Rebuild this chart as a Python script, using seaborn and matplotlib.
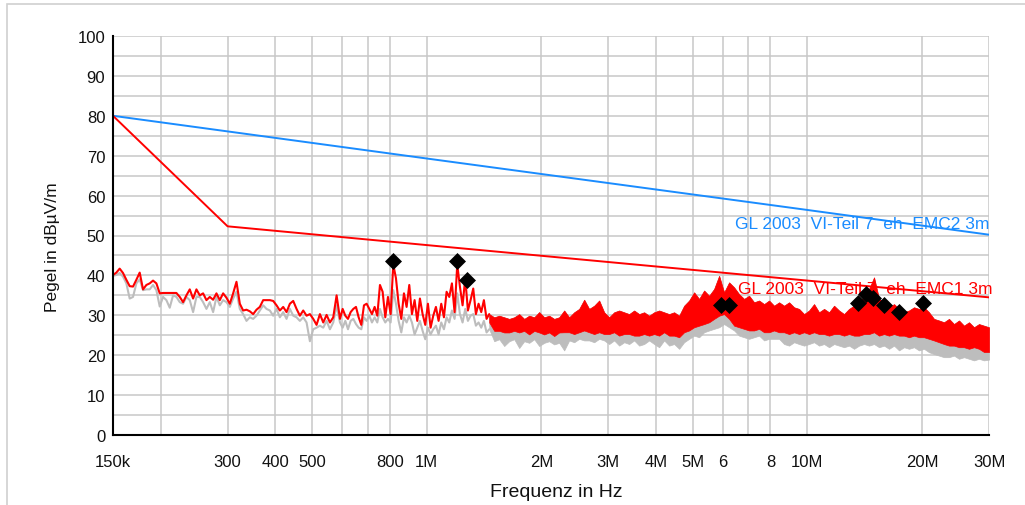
import numpy as np
import pandas as pd
import matplotlib.pyplot as plt
import seaborn as sns
from matplotlib.patches import Rectangle
from matplotlib.ticker import FixedLocator, NullLocator, MultipleLocator

# Limit lines (frequency in Hz, level in dBuV/m)
lim_emc2_f = [150e3, 1e6, 10e6, 30e6]
lim_emc2_db = [80.0, 69.3, 56.4, 50.2]
lim_emc1_f = [150e3, 300e3, 1e6, 10e6, 30e6]
lim_emc1_db = [80.0, 52.3, 47.6, 38.7, 34.5]

# Measured spectrum, low band 150k..580k (sweep points evenly spaced on the log axis)
lf1_span = (150e3, 580e3)
lf1_red = [40.1, 40.7, 41.7, 40.6, 38.9, 37.3, 37.2, 38.9, 40.7, 36.5,
           37.6, 38.0, 38.7, 38.0, 35.5, 35.6, 35.6, 35.6, 35.6, 35.6,
           34.6, 33.3, 35.0, 36.5, 34.2, 36.5, 35.0, 35.5, 33.8, 34.6,
           33.9, 35.5, 33.8, 35.5, 34.4, 32.9, 35.5, 38.4, 32.9, 31.2,
           31.4, 31.0, 30.3, 31.4, 32.1, 33.8, 33.8, 33.8, 33.6, 32.5,
           31.2, 32.1, 30.8, 32.9, 33.6, 31.6, 29.9, 31.2, 29.9, 30.3,
           29.1, 27.6, 30.3, 28.2, 30.1, 28.2, 29.5, 35.0]
lf1_grey = [39.9, 40.1, 40.6, 39.7, 38.0, 34.2, 34.6, 38.0, 39.0, 36.3,
            36.5, 36.5, 37.6, 36.3, 32.2, 34.6, 33.8, 31.9, 35.0, 34.6,
            33.3, 32.9, 34.6, 33.8, 30.8, 34.6, 34.6, 33.3, 31.6, 33.3,
            30.8, 34.6, 32.5, 33.8, 33.3, 32.1, 34.2, 35.9, 31.6, 30.3,
            28.6, 29.5, 29.1, 29.9, 31.2, 32.5, 31.6, 31.2, 29.9, 31.6,
            29.5, 30.8, 29.1, 31.6, 29.9, 29.5, 28.6, 29.5, 28.2, 23.5,
            26.5, 26.9, 27.4, 26.9, 28.6, 26.5, 28.2, 32.5]

# low band 592k..1.46M
lf2_span = (592e3, 1.46e6)
lf2_red = [29.1, 31.6, 29.9, 29.1, 30.8, 31.6, 32.1, 29.5, 27.6, 32.5,
           32.9, 31.6, 30.3, 32.1, 29.9, 37.6, 35.9, 29.5, 34.6, 30.3,
           42.7, 39.3, 32.9, 29.1, 35.5, 32.1, 37.6, 30.3, 33.8, 28.6,
           34.2, 30.3, 27.6, 32.9, 26.9, 29.9, 32.1, 28.6, 32.9, 29.5,
           35.9, 34.6, 38.0, 30.8, 42.7, 37.2, 32.5, 39.3, 31.2, 33.8,
           36.7, 30.3, 32.9, 30.8, 33.8, 29.1, 30.3]
lf2_grey = [28.2, 26.9, 28.6, 26.5, 28.6, 29.1, 27.8, 26.9, 26.5, 29.5,
            28.6, 29.9, 28.2, 29.5, 28.2, 31.6, 29.5, 28.2, 29.1, 28.2,
            36.3, 32.9, 28.6, 25.7, 29.5, 28.2, 29.9, 28.2, 25.2, 26.9,
            28.6, 26.1, 24.0, 26.9, 25.2, 26.5, 27.4, 25.2, 28.2, 26.5,
            29.5, 28.2, 31.2, 29.1, 35.5, 30.3, 28.2, 31.6, 28.6, 29.9,
            30.3, 27.4, 28.2, 26.9, 28.6, 25.7, 26.5]

# dense band 1.46M..30M: top and bottom of the red trace, bottom of the grey trace
hf_span = (1.46e6, 30e6)
hf_red_top = [30.3, 29.5, 29.9, 29.5, 29.1, 29.5, 30.3, 29.1, 29.9, 29.5,
              30.8, 29.5, 29.9, 29.1, 29.5,
              31.2, 29.5, 30.75, 31.6, 33.9, 31.6, 32.4, 33.7, 30.75, 29.5,
              30.75, 31.2, 30.75, 30.3, 31.2, 30.3, 30.75, 29.9, 30.75, 31.2,
              30.75, 30.3, 30.75, 29.9, 32.4, 33.7, 35.75, 34.1, 36.2, 34.9,
              36.6, 39.9, 35.75, 38.25, 37.0, 35.3, 34.1, 34.9, 33.25, 33.7,
              32.8, 33.7, 32.4, 33.25,
              32.4, 33.25, 32.0, 31.6, 30.3, 31.2, 32.8, 30.75, 31.6, 30.75,
              32.4, 31.2, 30.3, 31.6, 32.4, 33.7, 34.5, 36.6, 39.5, 34.1,
              33.25, 32.0, 32.8, 31.6, 30.75, 31.2, 32.0, 31.6, 32.0, 30.75,
              29.1, 28.7, 28.25, 29.1, 27.8, 28.7, 27.4, 28.25, 27.0, 27.8,
              27.4, 27.0]
hf_red_bot = [28.2, 26.1, 26.1, 25.7, 25.7, 26.1, 25.7, 26.1, 25.2, 26.1,
              25.7, 25.2, 25.7, 24.8, 25.7,
              25.75, 25.75, 25.3, 25.75, 26.2, 25.75, 25.3, 25.75, 25.3, 25.3,
              25.75, 24.9, 25.3, 25.3, 24.9, 24.9, 25.3, 24.9, 25.3, 24.9,
              25.75, 24.9, 24.9, 24.5, 25.75, 26.2, 27.0, 27.4, 27.8, 28.25,
              29.1, 29.9, 30.3, 29.1, 27.4, 27.0, 26.6, 26.2, 26.2, 26.6,
              25.75, 25.75, 26.2, 25.75,
              25.75, 25.3, 25.75, 25.3, 25.75, 25.3, 25.75, 25.3, 25.3, 24.9,
              25.3, 25.3, 24.9, 25.3, 24.9, 24.9, 25.3, 25.3, 25.75, 24.9,
              25.3, 24.9, 25.3, 24.9, 24.9, 24.5, 24.9, 24.5, 24.5, 24.1,
              23.7, 23.25, 22.8, 22.4, 22.4, 22.0, 22.0, 21.6, 22.0, 21.6,
              20.8, 20.8]
hf_grey_bot = [26.5, 23.5, 24.0, 22.3, 23.5, 24.0, 21.8, 23.5, 23.1, 24.0,
               22.3, 23.1, 23.5, 22.7, 23.1,
               21.2, 23.7, 23.25, 24.1, 23.7, 23.7, 23.25, 24.1, 23.7, 22.8,
               23.7, 22.4, 23.25, 22.8, 23.7, 22.4, 22.8, 23.7, 22.8, 22.0,
               23.7, 22.4, 22.8, 21.6, 23.25, 24.1, 24.9, 24.5, 25.75, 26.2,
               26.6, 27.0, 27.8, 27.0, 26.2, 24.9, 24.5, 24.1, 24.5, 24.9,
               23.7, 24.1, 24.1, 24.1,
               22.8, 22.4, 23.25, 22.8, 22.4, 22.8, 23.25, 22.4, 22.8, 22.0,
               22.8, 22.4, 22.0, 22.4, 21.6, 22.4, 22.8, 22.4, 22.8, 22.0,
               22.4, 21.6, 22.4, 21.2, 22.0, 21.6, 22.0, 21.2, 21.6, 20.75,
               20.3, 19.9, 19.5, 19.5, 19.9, 19.1, 19.5, 19.1, 18.7, 19.1,
               18.7, 18.9]

# Peak markers
peak_f = [816e3, 1.2e6, 1.276e6, 5.93e6, 6.23e6, 13.6e6, 14.25e6, 14.9e6, 15.9e6, 17.4e6, 20.1e6]
peak_db = [43.6, 43.6, 38.8, 32.6, 32.6, 33.1, 35.3, 34.3, 32.6, 30.8, 33.1]

# Axis ticks
xtick_f = [150e3, 200e3, 300e3, 400e3, 500e3, 600e3, 700e3, 800e3, 1e6,
           2e6, 3e6, 4e6, 5e6, 6e6, 7e6, 8e6, 10e6, 20e6, 30e6]
xtick_lbl = ["150k", "", "300", "400", "500", "", "", "800", "1M",
             "2M", "3M", "4M", "5M", "6", "", "8", "10M", "20M", "30M"]

RED = "#ff0000"
BLUE = "#1a8cff"
GREY = "#bdbdbd"
GRID = "#c8c8c8"

sns.set_theme(style="white")
plt.rcParams["font.family"] = ["Liberation Sans", "DejaVu Sans"]

df_lf = pd.DataFrame({
    "freq": np.concatenate([np.geomspace(*lf1_span, len(lf1_red)),
                            np.geomspace(*lf2_span, len(lf2_red))]),
    "red": lf1_red + lf2_red,
    "grey": lf1_grey + lf2_grey,
})
df_hf = pd.DataFrame({
    "freq": np.geomspace(*hf_span, len(hf_red_top)),
    "top": hf_red_top,
    "bot": hf_red_bot,
    "gbot": hf_grey_bot,
})
df_peaks = pd.DataFrame({"freq": peak_f, "level": peak_db})

fig = plt.figure(figsize=(10.25, 5.06), dpi=100)
fig.patches.append(Rectangle((7 / 1025, -0.5), 2, 0.99 + 0.5, transform=fig.transFigure,
                             fill=False, edgecolor="#d0d0d0", lw=1.2))
ax = fig.add_axes([113 / 1025, 1 - 436 / 506, 876 / 1025, 399 / 506])
ax.set_xscale("log")

# grey trace underneath, red trace on top
sns.lineplot(data=df_lf, x="freq", y="grey", color=GREY, lw=1.5, ax=ax, estimator=None, sort=False)
ax.fill_between(df_hf["freq"], df_hf["gbot"], df_hf["top"], color=GREY, lw=0.5)
sns.lineplot(data=df_lf, x="freq", y="red", color=RED, lw=1.5, ax=ax, estimator=None, sort=False)
ax.fill_between(df_hf["freq"], df_hf["bot"], df_hf["top"], color=RED, lw=0.5)

# limit lines
sns.lineplot(x=lim_emc2_f, y=lim_emc2_db, color=BLUE, lw=1.4, ax=ax, estimator=None, sort=False)
sns.lineplot(x=lim_emc1_f, y=lim_emc1_db, color=RED, lw=1.4, ax=ax, estimator=None, sort=False)

sns.scatterplot(data=df_peaks, x="freq", y="level", marker="D", s=75, color="black",
                edgecolor="black", linewidth=0, ax=ax, zorder=5)

ax.text(6.46e6, 52.9, "GL 2003  VI-Teil 7  eh  EMC2 3m", color=BLUE, fontsize=12.5, va="center", ha="left")
ax.text(6.57e6, 36.8, "GL 2003  VI-Teil 7  eh  EMC1 3m", color=RED, fontsize=12.5, va="center", ha="left")

ax.set_xlim(150e3, 30e6)
ax.set_ylim(0, 100)
ax.xaxis.set_major_locator(FixedLocator(xtick_f))
ax.xaxis.set_minor_locator(NullLocator())
ax.set_xticklabels(xtick_lbl)
ax.yaxis.set_major_locator(MultipleLocator(10))
ax.yaxis.set_minor_locator(MultipleLocator(5))

ax.grid(True, which="major", axis="x", color=GRID, lw=1.1)
ax.grid(True, which="both", axis="y", color=GRID, lw=1.1)
ax.set_axisbelow(True)
for side in ["top", "right"]:
    ax.spines[side].set_visible(False)
for side in ["left", "bottom"]:
    ax.spines[side].set_color("black")
    ax.spines[side].set_linewidth(1.5)
    ax.spines[side].set_zorder(6)

ax.tick_params(axis="both", which="both", direction="inout", length=9, width=1.2,
               color="black", labelsize=12, labelcolor="#111111")
ax.tick_params(axis="x", pad=9)
ax.tick_params(axis="y", pad=1)

ax.set_xlabel("Frequenz in Hz", fontsize=14, color="#111111")
ax.set_ylabel("Pegel in dB\u00b5V/m", fontsize=12.5, color="#111111")
ax.xaxis.set_label_coords((556 - 113) / 876, (436 - 493) / 399)
ax.xaxis.label.set_va("center")
ax.yaxis.set_label_coords((53 - 113) / 876, (436 - 247) / 399)
ax.yaxis.label.set_va("center")

fig.savefig("out.png", dpi=100)
